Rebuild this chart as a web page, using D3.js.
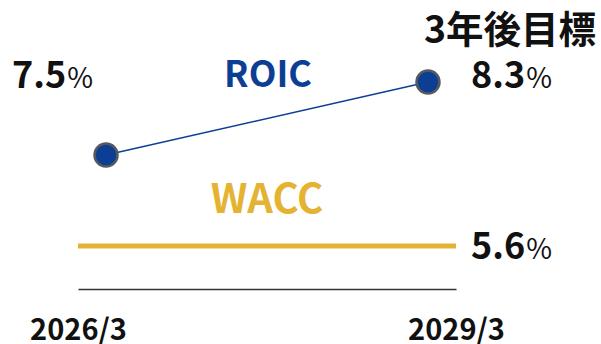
<!DOCTYPE html>
<html lang="ja">
  <head>
    <meta charset="utf-8">
    <title>roic_wacc</title>
    <script src="https://d3js.org/d3.v7.min.js"></script>
    <style>
      body {margin:0; background:white;}
      svg {display:block; font-family:"Noto Sans CJK JP", "Noto Sans", sans-serif;}
      .num {font-weight:bold; fill:#111;}
      .pct {font-weight:normal;}
    </style>
  </head>
  <body>
    <script>
      const width = 601;
      const height = 344;

      // data
      const periods = ["2026/3", "2029/3"];
      const roic = [7.5, 8.3];
      const wacc = [5.6, 5.6];
      const targetLabel = "3年後目標";

      const roicColor = "#0c3f94";
      const waccColor = "#e5b332";

      const svg = d3.select("body").append("svg")
        .attr("width", width).attr("height", height);

      // x: axis ends at the line ends, points inset a bit
      const x = d3.scalePoint().domain(periods).range([78, 456]);
      const xp = x.copy().padding(0.087);

      // schematic y (not proportional in the original)
      const y = d3.scaleLinear().domain([5.6, 7.5, 8.3]).range([246, 155, 82]);

      // baseline axis
      const xAxis = g => g
        .attr("transform", "translate(0," + 289 + ")")
        .call(d3.axisBottom(x).tickSize(0).tickPadding(30))
        .call(g => g.select(".domain").attr("stroke", "#333").attr("stroke-width", 1.3))
        .call(g => g.selectAll("text")
          .attr("font-size", 29).attr("font-weight", "bold").attr("fill", "#111")
          .attr("font-family", "'Noto Sans CJK JP', sans-serif"));
      svg.append("g").call(xAxis);

      // WACC line
      svg.append("line")
        .attr("x1", x(periods[0])).attr("x2", x(periods[1]))
        .attr("y1", y(wacc[0])).attr("y2", y(wacc[1]))
        .attr("stroke", waccColor).attr("stroke-width", 5);

      // ROIC line + points
      const pts = periods.map((p, i) => ({p: p, v: roic[i]}));
      svg.append("path").datum(pts)
        .attr("fill", "none").attr("stroke", roicColor).attr("stroke-width", 1.5)
        .attr("d", d3.line().x(d => xp(d.p)).y(d => y(d.v)));
      svg.selectAll("circle.pt").data(pts).enter().append("circle")
        .attr("class", "pt")
        .attr("cx", d => xp(d.p)).attr("cy", d => y(d.v)).attr("r", 11.5)
        .attr("fill", roicColor).attr("stroke", "#555a60").attr("stroke-width", 2.5);

      // value labels
      function valueLabel(tx, ty, v) {
        const t = svg.append("text").attr("class", "num").attr("x", tx).attr("y", ty)
          .attr("font-size", 36);
        t.append("tspan").text(v.toFixed(1));
        t.append("tspan").attr("class", "pct").attr("font-size", 28).attr("dx", 1).text("%");
      }
      valueLabel(12, 88, roic[0]);
      valueLabel(471, 88, roic[1]);
      valueLabel(471, 259, wacc[1]);

      svg.append("text").attr("class", "num")
        .attr("x", 424).attr("y", 43).attr("font-size", 37.5).text(targetLabel);

      // series names
      svg.append("text").attr("x", 268).attr("y", 87).attr("text-anchor", "middle")
        .attr("font-size", 36).attr("font-weight", "bold").attr("fill", roicColor).text("ROIC");
      svg.append("text").attr("x", 267).attr("y", 213).attr("text-anchor", "middle")
        .attr("font-size", 40).attr("font-weight", "bold").attr("fill", waccColor).text("WACC");
    </script>
  </body>
</html>
